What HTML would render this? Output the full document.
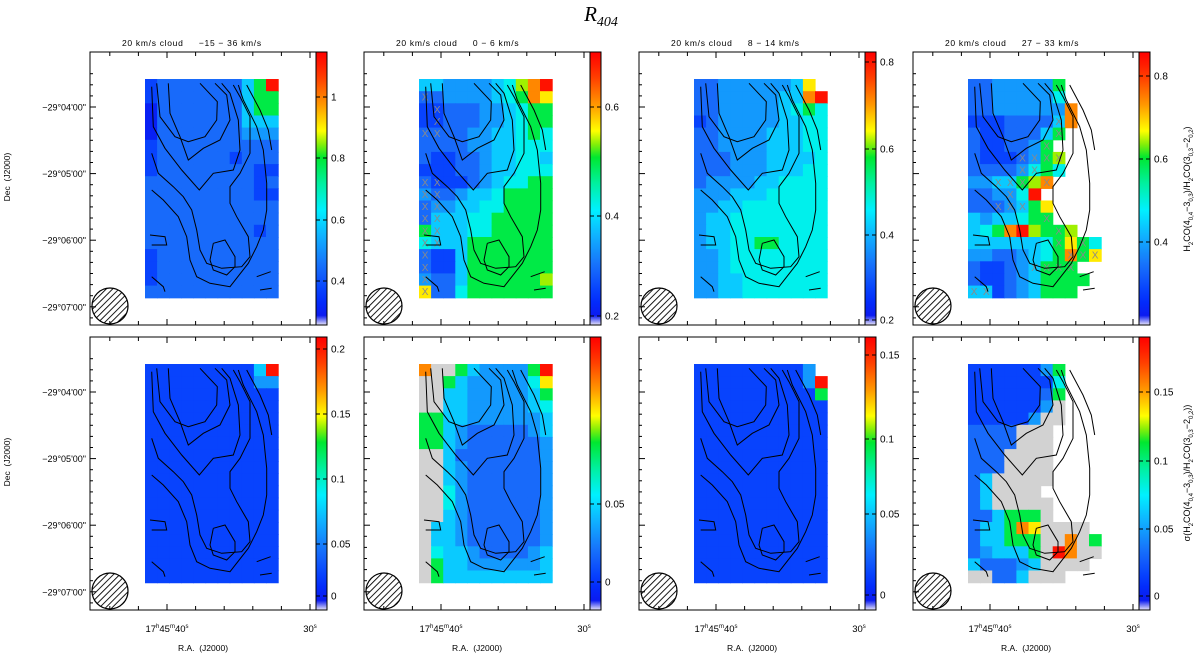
<!DOCTYPE html>
<html><head><meta charset="utf-8"><title>R404 ratio maps</title>
<style>
html,body{margin:0;padding:0;background:#fff;}
svg{display:block;font-family:"Liberation Sans","DejaVu Sans",sans-serif;}
</style></head>
<body>
<svg id="fig" width="1200" height="658" viewBox="0 0 1200 658" xmlns="http://www.w3.org/2000/svg">
<defs>
<pattern id="hatch" patternUnits="userSpaceOnUse" width="4.5" height="4.5" patternTransform="rotate(45)">
<rect width="4.5" height="4.5" fill="#fff"/><line x1="0" y1="0" x2="0" y2="4.5" stroke="#000" stroke-width="1.8"/>
</pattern>
</defs>
<text x="601" y="21" font-family="Liberation Serif, serif" font-style="italic" font-size="21" text-anchor="middle">R<tspan font-size="14" dy="5">404</tspan></text>
</svg>
<script>
// ---------- data (cell value codes: 0..9,a = colour level, g = grey, . = blank) ----------
const panelTitles = ["20 km/s cloud     \u221215 \u2212 36 km/s","20 km/s cloud     0 \u2212 6 km/s","20 km/s cloud     8 \u2212 14 km/s","20 km/s cloud     27 \u2212 33 km/s"];
const p1Top = ["1222222246a","12222222466","02222222466","02222222444","02222222333","12222222222","12222221222","12222222211","22222222212","22222222211","22222222222","22222222222","22222222212","22222222222","12222222222","12222222222","12222222222","22222222222"];
const p2Top = ["4433334579a","22333345698","11222334566","11222334566","22223344565","22223344555","21122344554","11122344555","21112345566","32234456666","23344556666","24445566666","64445566666","54446666666","21146666666","21146666666","32246666667","82256666666"];
const p3Top = ["2233333348.","2233333449a","22333334565","12333334455","22333344455","22333344455","22233344445","22233344455","23333445555","33344455555","33445555555","34455555555","34455555555","34455665555","33455555555","33455555555","33445555555","33445555555"];
const p4Top = ["22333336...","22333335...","223333339..","111222249..","21122246...","2112236....","21112367...","22223565...","3344679....","22335a.....","2223468....","4344566....","4569a7667..","44444456865","33223456968","211234666..","2112346666.","441234666.."];
const p1Bot = ["1111111114a","11111111133","11111111111","11111111111","11111111111","11111111111","11111111111","11111111111","11111111111","11111111111","11111111111","11111111111","11111111111","11111111111","11111111111","11111111111","11111111111","11111111111"];
const p2Bot = ["9gg6433336a","gg643333358","gg443333346","gg443333345","66443333334","66432222234","66432222223","gg422222223","gg432222223","gg432222223","gg532222223","gg532222223","gg432222223","g4432222223","g4432222223","g5443222234","g6443333334","g6444444444"];
const p3Bot = ["1111111113.","1111111113a","11111111116","11111111111","11111111111","11111111111","11111111111","11111111111","11111111111","11111111111","11111111111","11111111111","11111111111","11111111111","11111111111","11111111111","11111111111","11111111111"];
const p4Bot = ["11111136...","11111115...","11111126...","1111113g...","111113gg...","2222ggg....","2222ggg....","222gggg....","222gggg....","24ggggg....","24gggg.....","24ggggg....","224666g....","244698gggg.","244666gg9g6","234446ga9gg","422234gggg.","gg224ggg..."];
const p2TopX = ["0,1","1,2","1,3","1,4","0,4","0,8","1,8","0,9","1,9","0,10","1,10","0,11","1,11","0,12","1,12","0,13","1,13","0,14","0,15","0,16","0,17"];
const p4TopX = ["7,3","7,4","6,5","6,6","7,6","5,6","4,6","4,7","5,7","2,8","3,8","4,8","6,8","3,9","2,10","3,10","4,10","6,11","7,12","7,13","9,13","8,14","9,14","10,14","5,15","6,15","7,15","8,15","0,17","1,17"];
const cbTopTicks = [["1","0.8","0.6","0.4"],["0.6","0.4","0.2"],["0.8","0.6","0.4","0.2"],["0.8","0.6","0.4"]];
const cbTopPos = [[97,158,220,281],[107,216,316],[62,149,235,320],[76,159,242]];
const cbBotTicks = [["0.2","0.15","0.1","0.05","0"],["0.05","0"],["0.15","0.1","0.05","0"],["0.15","0.1","0.05","0"]];
const cbBotPos = [[349,414,479,544,596],[504,582],[355,439,514,595],[392,461,529,596]];
const decLabels = ["\u221229\u00b004'00\"","\u221229\u00b005'00\"","\u221229\u00b006'00\"","\u221229\u00b007'00\""];

// ---------- geometry ----------
const NS = "http://www.w3.org/2000/svg";
const svg = document.getElementById("fig");
const frameX = [90,364,639,913], frameW = 226, cbW = 11;
const rowY = [52,337], frameH = 273;
const mapDX = 55, mapDY = 27, cellW = 12.1, cellH = 12.15;

const stops = [[0,[16,16,232]],[0.06,[0,48,255]],[0.18,[24,106,250]],[0.3,[16,176,255]],[0.4,[0,240,255]],[0.5,[0,240,160]],[0.6,[0,232,48]],[0.66,[160,240,0]],[0.7,[255,255,0]],[0.8,[255,152,0]],[0.92,[255,48,0]],[1,[255,0,0]]];
function cmap(t){for(let i=1;i<stops.length;i++){if(t<=stops[i][0]){const a=stops[i-1],b=stops[i];const f=(t-a[0])/(b[0]-a[0]);return "rgb("+a[1].map((v,k)=>Math.round(v+(b[1][k]-v)*f)).join(",")+")";}}return "rgb(255,0,0)";}
const levelT = {"0":0.03,"1":0.1,"2":0.18,"3":0.26,"4":0.34,"5":0.42,"6":0.58,"7":0.66,"8":0.72,"9":0.82,"a":0.97};

function el(tag,attrs,parent){const e=document.createElementNS(NS,tag);for(const k in attrs)e.setAttribute(k,attrs[k]);(parent||svg).appendChild(e);return e;}
function txt(x,y,s,size,attrs){const t=el("text",Object.assign({x:x,y:y,"font-size":size},attrs||{}));t.textContent=s;return t;}

// contours in reference-zoom coordinates (converted to map pixels)
const contours = [
 [[470,160],[480,260],[525,320],[565,335],[615,320],[650,270],[652,215],[600,160]],
 [[505,160],[510,250],[540,320],[565,390],[610,355],[660,330],[690,270],[680,195],[645,160]],
 [[455,170],[460,290],[495,355],[545,420],[598,480],[640,430],[700,420],[720,360],[715,270],[690,190],[665,160]],
 [[455,370],[475,430],[520,470],[550,500],[575,540],[590,600],[600,660],[620,700],[665,715],[725,710],[750,680],[745,620],[710,560],[690,520],[690,470],[720,430],[750,370],[750,260],[720,200],[700,165]],
 [[455,480],[490,510],[535,560],[560,620],[570,690],[590,740],[630,760],[690,770],[745,700],[770,650],[790,600],[800,540],[800,460],[790,360],[770,290],[730,210],[715,165]],
 [[455,740],[490,770],[495,785]],
 [[450,615],[495,620],[500,645],[455,645]],
 [[640,640],[675,630],[705,680],[705,710],[680,735],[640,720],[630,690],[640,640]],
 [[740,165],[780,240],[805,300],[815,360]],
 [[780,780],[815,775]],
 [[770,740],[812,725]]
];

function drawPanel(p,r,grid,xmarks,ticks,tickPos){
 const fx=frameX[p], fy=rowY[r];
 const g=el("g",{});
 
 
 const mx=fx+mapDX, my=fy+mapDY;
 grid.forEach((row,ri)=>{for(let ci=0;ci<row.length;ci++){const c=row[ci];if(c==="."||c===" ")continue;
   const fill=c==="g"?"#d2d2d2":cmap(levelT[c]);
   const rc=el("rect",{x:(mx+ci*cellW).toFixed(1),y:(my+ri*cellH).toFixed(1),width:cellW+0.6,height:cellH+0.6,fill:fill},g);
   
   }});
 (xmarks||[]).forEach(s=>{const [ci,ri]=s.split(",").map(Number);
   const t=txt(mx+ci*cellW+cellW/2,my+ri*cellH+cellH/2+3.5,"X",10,{"text-anchor":"middle",fill:"#8a8a8a"});g.appendChild(t);
   
   });
 contours.forEach(c=>{const d=c.map((pt,i)=>(i?"L":"M")+(mx+(pt[0]-435)/3).toFixed(1)+","+(my+(pt[1]-147)/3).toFixed(1)).join("");
   const pth=el("path",{d:d,fill:"none",stroke:"#000","stroke-width":1},g);
   
   });
 const beam=el("circle",{cx:fx+20,cy:fy+254,r:18,fill:"url(#hatch)",stroke:"#000","stroke-width":1.2},g);
 
 
 const fr=el("rect",{x:fx,y:fy,width:frameW,height:frameH,fill:"none",stroke:"#000","stroke-width":1},g);
 
 
 for(let k=-4;k<=5;k++){const x=fx+77+k*14.3*2;if(x<fx+2||x>fx+frameW-1)continue;
   const major=(k===0||k===5);const L=major?6:4;
   el("line",{x1:x,y1:fy+frameH,x2:x,y2:fy+frameH-L,stroke:"#000","stroke-width":1},g);
   el("line",{x1:x,y1:fy,x2:x,y2:fy+L,stroke:"#000","stroke-width":1},g);}
 for(let k=-3;k<=24;k++){const y=fy+55+k*11.1;if(y<fy+2||y>fy+frameH-2)continue;
   const major=(k%6===0);const L=major?6:3;
   el("line",{x1:fx,y1:y,x2:fx+L,y2:y,stroke:"#000","stroke-width":1},g);}
 const gid="cbg"+p+r;
 const lg=el("linearGradient",{id:gid,x1:0,y1:1,x2:0,y2:0},svg.querySelector("defs"));
 el("stop",{offset:0,"stop-color":"#e8e4f8"},lg);
 el("stop",{offset:0.035,"stop-color":cmap(0.02)},lg);
 for(let i=1;i<=20;i++){const t=i/20;el("stop",{offset:0.035+0.965*t,"stop-color":cmap(t)},lg);}
 const cb=el("rect",{x:fx+frameW,y:fy,width:cbW,height:frameH,fill:"url(#"+gid+")",stroke:"#000","stroke-width":1},g);
 
 
 ticks.forEach((s,i)=>{const y=tickPos[i];
   el("line",{x1:fx+frameW,y1:y,x2:fx+frameW+4,y2:y,stroke:"#000"},g);
   el("line",{x1:fx+frameW+cbW-4,y1:y,x2:fx+frameW+cbW,y2:y,stroke:"#000"},g);
   const t=txt(fx+frameW+cbW+4,y+3.5,s,10);g.appendChild(t);
   
   });
 return g;
}

const tops=[p1Top,p2Top,p3Top,p4Top], bots=[p1Bot,p2Bot,p3Bot,p4Bot];
for(let p=0;p<4;p++){
 drawPanel(p,0,tops[p],p===1?p2TopX:(p===3?p4TopX:[]),cbTopTicks[p],cbTopPos[p]);
 drawPanel(p,1,bots[p],[],cbBotTicks[p],cbBotPos[p]);
 const ttl=txt(frameX[p]+32,46,panelTitles[p],8.5,{"letter-spacing":"0.7","style":"white-space:pre"});
 
 
 const ra=txt(frameX[p]+77,632,"",9.5,{"text-anchor":"middle"});
 ra.innerHTML='17<tspan font-size="6" dy="-4">h</tspan><tspan dy="4">45</tspan><tspan font-size="6" dy="-4">m</tspan><tspan dy="4">40</tspan><tspan font-size="6" dy="-4">s</tspan>';
 
 
 const r30=txt(frameX[p]+220,632,"",9.5,{"text-anchor":"middle"});
 r30.innerHTML='30<tspan font-size="6" dy="-4">s</tspan>';
 
 
 const xl=txt(frameX[p]+113,651,"R.A.  (J2000)",8.5,{"text-anchor":"middle","style":"white-space:pre"});
 
 
}
for(let r=0;r<2;r++){
 decLabels.forEach((s,i)=>{const t=txt(86,rowY[r]+55+i*66.6+3.5,s,9,{"text-anchor":"end"});
   
   });
 const yl=txt(0,0,"Dec  (J2000)",8.5,{"text-anchor":"middle","style":"white-space:pre","transform":"translate(10,"+(rowY[r]+125)+") rotate(-90)"});
 
 
}
const ry=txt(0,0,"",9,{"text-anchor":"middle","transform":"translate(1190,189) rotate(-90)"});
ry.innerHTML='H<tspan font-size="6" dy="3">2</tspan><tspan dy="-3">CO(4</tspan><tspan font-size="6" dy="3">0,4</tspan><tspan dy="-3">\u22123</tspan><tspan font-size="6" dy="3">0,3</tspan><tspan dy="-3">)/H</tspan><tspan font-size="6" dy="3">2</tspan><tspan dy="-3">CO(3</tspan><tspan font-size="6" dy="3">0,3</tspan><tspan dy="-3">\u22122</tspan><tspan font-size="6" dy="3">0,2</tspan><tspan dy="-3">)</tspan>';


const rs=txt(0,0,"",9,{"text-anchor":"middle","transform":"translate(1190,473) rotate(-90)"});
rs.innerHTML='\u03c3(H<tspan font-size="6" dy="3">2</tspan><tspan dy="-3">CO(4</tspan><tspan font-size="6" dy="3">0,4</tspan><tspan dy="-3">\u22123</tspan><tspan font-size="6" dy="3">0,3</tspan><tspan dy="-3">)/H</tspan><tspan font-size="6" dy="3">2</tspan><tspan dy="-3">CO(3</tspan><tspan font-size="6" dy="3">0,3</tspan><tspan dy="-3">\u22122</tspan><tspan font-size="6" dy="3">0,2</tspan><tspan dy="-3">))</tspan>';


</script>
</body></html>
